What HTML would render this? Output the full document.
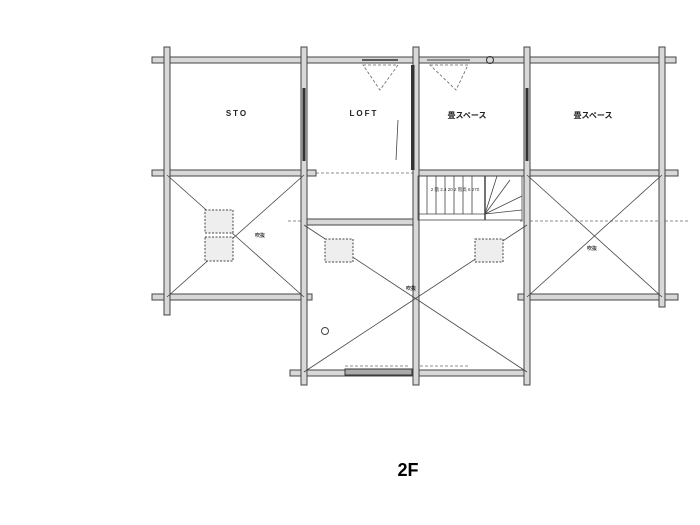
<!DOCTYPE html>
<html><head><meta charset="utf-8"><style>
html,body{margin:0;padding:0;background:#fff;width:700px;height:525px;overflow:hidden}
svg{display:block}
text{font-family:"Liberation Sans","Noto Sans CJK JP",sans-serif}
</style></head><body>
<svg width="700" height="525" viewBox="0 0 700 525" xmlns="http://www.w3.org/2000/svg">
<defs>
<style>
.w{fill:#d8d8d8;stroke:#444;stroke-width:1}
.d{stroke:#444;stroke-width:0.8;fill:none}
.dash{stroke:#666;stroke-width:0.8;fill:none;stroke-dasharray:3,2}
.box{fill:#eee;stroke:#444;stroke-width:1;stroke-dasharray:2,1.5}
</style>
</defs>
<rect class="w" x="152" y="57" width="524" height="6"/>
<rect class="w" x="152" y="170" width="164" height="6"/>
<rect class="w" x="416" y="170" width="262" height="6"/>
<line class="dash" x1="316" y1="173" x2="416" y2="173"/>
<rect class="w" x="306" y="219" width="112" height="6"/>
<line class="dash" x1="288" y1="221" x2="306" y2="221"/>
<line class="dash" x1="520" y1="221" x2="690" y2="221"/>
<rect class="w" x="152" y="294" width="160" height="6"/>
<rect class="w" x="518" y="294" width="160" height="6"/>
<rect class="w" x="290" y="370" width="236" height="6"/>
<rect x="345" y="369" width="67" height="6" fill="#aaa" stroke="#333" stroke-width="1"/>
<line class="dash" x1="345" y1="366" x2="410" y2="366"/>
<line class="dash" x1="420" y1="366" x2="470" y2="366"/>
<rect class="w" x="164" y="47" width="6" height="268"/>
<rect class="w" x="301" y="47" width="6" height="338"/>
<rect class="w" x="413" y="47" width="6" height="338"/>
<rect class="w" x="524" y="47" width="6" height="338"/>
<rect class="w" x="659" y="47" width="6" height="260"/>
<rect x="302.5" y="88" width="3" height="73" fill="#333"/>
<rect x="525.5" y="88" width="3" height="73" fill="#333"/>
<rect x="411" y="65" width="3.5" height="105" fill="#333"/>
<path class="dash" d="M363 65 L398 65 L380 90 Z"/>
<path class="dash" d="M430 65 L468 65 L456 90 Z"/>
<line x1="362" y1="60" x2="398" y2="60" stroke="#333" stroke-width="1.5"/>
<line x1="427" y1="60" x2="470" y2="60" stroke="#444" stroke-width="1"/>
<circle cx="490" cy="60" r="3.5" fill="none" stroke="#333"/>
<line x1="398" y1="120" x2="396" y2="160" stroke="#444" stroke-width="0.8"/>
<line class="d" x1="167" y1="175" x2="304" y2="297"/>
<line class="d" x1="304" y1="175" x2="167" y2="297"/>
<line class="d" x1="304" y1="225" x2="527" y2="372"/>
<line class="d" x1="527" y1="225" x2="304" y2="372"/>
<line class="d" x1="527" y1="175" x2="662" y2="297"/>
<line class="d" x1="662" y1="175" x2="527" y2="297"/>
<rect class="box" x="205" y="210" width="28" height="23"/>
<rect class="box" x="205" y="237" width="28" height="24"/>
<rect class="box" x="325" y="239" width="28" height="23"/>
<rect class="box" x="475" y="239" width="28" height="23"/>
<circle cx="325" cy="331" r="3.5" fill="none" stroke="#444"/>
<g stroke="#444" stroke-width="0.8" fill="none">
<rect x="418" y="176" width="104" height="44"/>
<line x1="418" y1="214" x2="485" y2="214"/>
<line x1="485" y1="176" x2="485" y2="220" stroke-width="1.5"/>
<line x1="427" y1="176" x2="427" y2="214"/><line x1="436" y1="176" x2="436" y2="214"/>
<line x1="445" y1="176" x2="445" y2="214"/><line x1="454" y1="176" x2="454" y2="214"/>
<line x1="463" y1="176" x2="463" y2="214"/><line x1="472" y1="176" x2="472" y2="214"/>
<line x1="485" y1="214" x2="497" y2="176"/><line x1="485" y1="214" x2="510" y2="180"/>
<line x1="485" y1="214" x2="522" y2="196"/><line x1="485" y1="214" x2="522" y2="210"/>
</g>
<text x="455" y="191" font-size="4.5" fill="#333" text-anchor="middle">2 階 2.4 20 2 階高 6 270</text>
<text x="237" y="116" font-size="8" font-weight="bold" letter-spacing="2" text-anchor="middle" fill="#222">STO</text>
<text x="364" y="116" font-size="8" font-weight="bold" letter-spacing="2" text-anchor="middle" fill="#222">LOFT</text>
<text x="467" y="118" font-size="8" font-weight="bold" text-anchor="middle" fill="#222">畳スペース</text>
<text x="593" y="118" font-size="8" font-weight="bold" text-anchor="middle" fill="#222">畳スペース</text>
<text x="255" y="237" font-size="5" font-weight="bold" fill="#333">吹抜</text>
<text x="406" y="290" font-size="5" font-weight="bold" fill="#333">吹抜</text>
<text x="587" y="250" font-size="5" font-weight="bold" fill="#333">吹抜</text>
<text x="408" y="476" font-size="18" font-weight="bold" text-anchor="middle" fill="#000">2F</text>
</svg>
</body></html>
